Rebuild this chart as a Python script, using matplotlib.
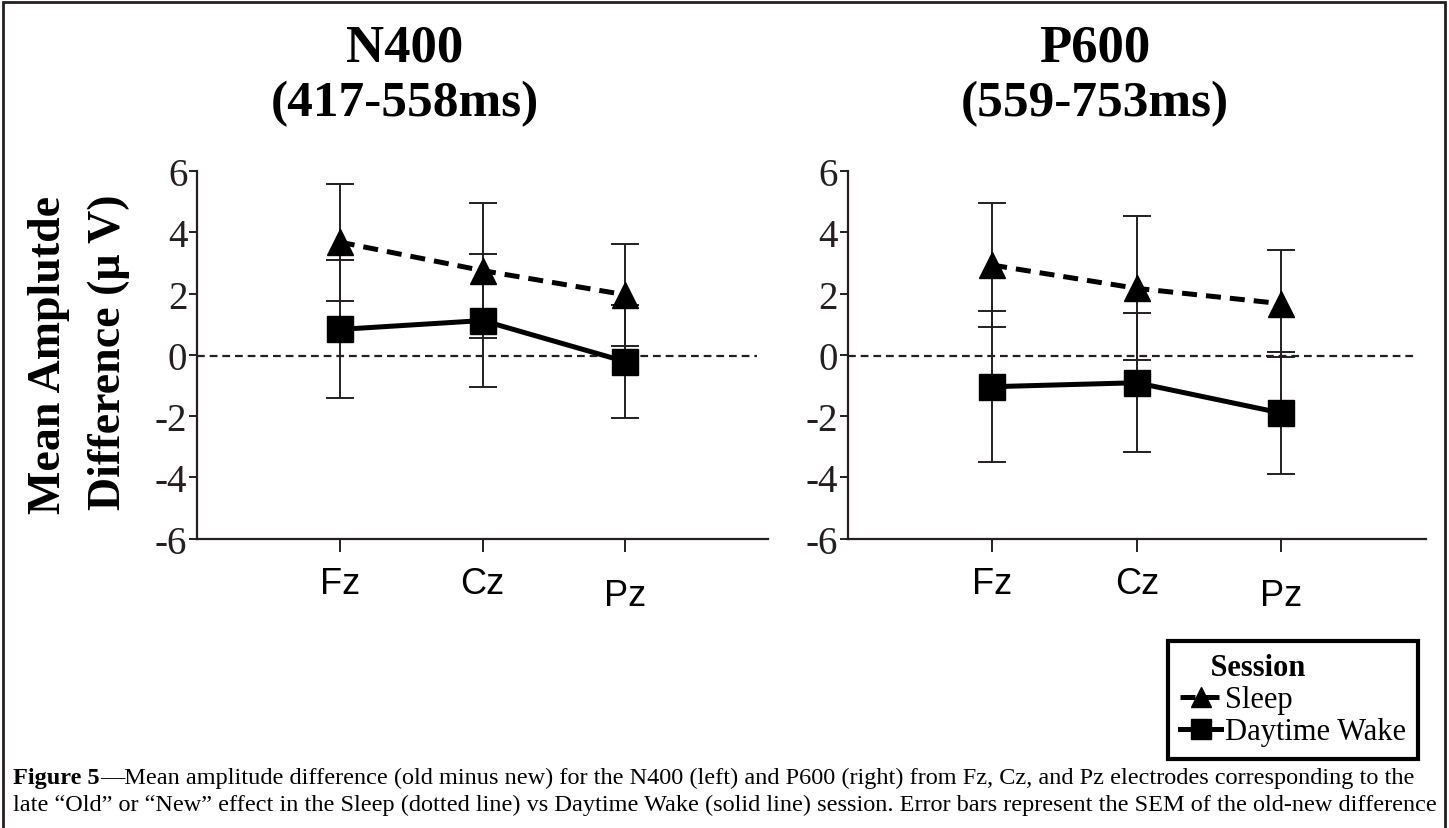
import matplotlib
matplotlib.use("Agg")
import matplotlib.pyplot as plt
from matplotlib.patches import Rectangle
from matplotlib.transforms import ScaledTranslation

electrodes = ["Fz", "Cz", "Pz"]
xpos = [1, 2, 3]

# N400 (417-558ms)
n400_sleep = [3.68, 2.75, 1.96]
n400_sleep_sem = [1.91, 2.20, 1.66]
n400_wake = [0.83, 1.12, -0.22]
n400_wake_sem = [2.25, 2.18, 1.85]

# P600 (559-753ms)
p600_sleep = [2.93, 2.17, 1.67]
p600_sleep_sem = [2.02, 2.35, 1.75]
p600_wake = [-1.04, -0.91, -1.90]
p600_wake_sem = [2.47, 2.26, 2.00]

serif = "Liberation Serif"
sans = "Liberation Sans"
ink = "#231f20"

fig = plt.figure(figsize=(14.49, 8.29), dpi=100)
ax1 = fig.add_axes([0.136, 0.349, 0.394, 0.4435])
ax2 = fig.add_axes([0.585, 0.349, 0.399, 0.4435])


def panel(ax, sleep, sleep_sem, wake, wake_sem):
    ax.plot([0, 3.92], [-0.05, -0.05], color=ink, lw=1.6, dashes=(3.5, 2.2), zorder=1)
    ax.errorbar(xpos, sleep, yerr=sleep_sem, fmt="none", ecolor=ink, elinewidth=1.4,
                capsize=10, capthick=1.4, zorder=2)
    ax.errorbar(xpos, wake, yerr=wake_sem, fmt="none", ecolor=ink, elinewidth=1.4,
                capsize=10, capthick=1.4, zorder=2)
    ax.plot(xpos, sleep, color="black", lw=3.6, dashes=(3.0, 1.8), marker="^",
            markersize=19, label="Sleep", zorder=3)
    ax.plot(xpos, wake, color="black", lw=3.6, marker="s", markersize=19,
            label="Daytime Wake", zorder=3)
    ax.set_xlim(0, 4)
    ax.set_ylim(-6, 6)
    ax.set_yticks([-6, -4, -2, 0, 2, 4, 6])
    ax.set_yticklabels(["-6", "-4", "-2", "0", "2", "4", "6"], fontfamily=serif, fontsize=28)
    ax.set_xticks(xpos)
    ax.set_xticklabels(electrodes, fontfamily=sans, fontsize=26)
    ax.tick_params(axis="y", length=6, width=1.4, color=ink, pad=1, labelcolor=ink)
    ax.tick_params(axis="x", length=9, width=1.4, color=ink, pad=11, labelcolor="black")
    # the Pz label sits a little lower in the original
    lab = ax.get_xticklabels()[2]
    lab.set_transform(lab.get_transform() + ScaledTranslation(0, -0.12, fig.dpi_scale_trans))
    for s in ["top", "right"]:
        ax.spines[s].set_visible(False)
    for s in ["left", "bottom"]:
        ax.spines[s].set_linewidth(1.6)
        ax.spines[s].set_color(ink)


panel(ax1, n400_sleep, n400_sleep_sem, n400_wake, n400_wake_sem)
panel(ax2, p600_sleep, p600_sleep_sem, p600_wake, p600_wake_sem)

# panel titles
fig.text(0.2795, 0.9415, "N400", ha="center", va="center", fontfamily=serif,
         fontweight="bold", fontsize=38)
fig.text(0.2795, 0.874, "(417-558ms)", ha="center", va="center", fontfamily=serif,
         fontweight="bold", fontsize=37)
fig.text(0.7557, 0.9415, "P600", ha="center", va="center", fontfamily=serif,
         fontweight="bold", fontsize=38)
fig.text(0.7557, 0.874, "(559-753ms)", ha="center", va="center", fontfamily=serif,
         fontweight="bold", fontsize=37)

# y label, two lines
fig.text(0.034, 0.572, "Mean Amplutde", rotation=90, ha="center", va="center",
         fontfamily=serif, fontweight="bold", fontsize=33)
fig.text(0.075, 0.575, "Difference (\u03bc V)", rotation=90, ha="center", va="center",
         fontfamily=serif, fontweight="bold", fontsize=33)

# legend
handles, labels = ax2.get_legend_handles_labels()
leg = fig.legend(handles, labels, loc="upper left", bbox_to_anchor=(0.806, 0.2256),
                 title="    Session", alignment="left",
                 prop={"family": serif, "size": 22},
                 title_fontproperties={"family": serif, "weight": "bold", "size": 22},
                 frameon=True, fancybox=False, edgecolor="black", framealpha=1,
                 handlelength=1.34, handletextpad=0.13, borderpad=0.4, labelspacing=0.1,
                 borderaxespad=0, markerscale=0.75)
leg.get_frame().set_linewidth(3)

# caption
line1 = ("\u2014Mean amplitude difference (old minus new) for the N400 (left) and P600 "
         "(right) from Fz, Cz, and Pz electrodes corresponding to the")
line2 = ("late \u201cOld\u201d or \u201cNew\u201d effect in the Sleep (dotted line) vs "
         "Daytime Wake (solid line) session. Error bars represent the SEM of the old-new difference")
t1 = fig.text(0.009, 0.0543, "Figure 5", ha="left", va="baseline", fontfamily=serif,
              fontweight="bold", fontsize=17.5)
fig.text(0, 0, line1, ha="left", va="baseline", fontfamily=serif, fontsize=17.5,
         transform=t1.get_transform() + ScaledTranslation(0, 0, fig.dpi_scale_trans))
fig.texts[-1].remove()
plt.annotate(line1, xy=(1, 0), xycoords=t1, ha="left", va="bottom",
             fontfamily=serif, fontsize=17.5)
fig.text(0.009, 0.0217, line2, ha="left", va="baseline", fontfamily=serif, fontsize=17.5)

# outer frame
fig.patches.append(Rectangle((0.002, -0.01), 0.995, 1.006, transform=fig.transFigure,
                             fill=False, edgecolor=ink, lw=2))

fig.savefig("out.png", dpi=100)
